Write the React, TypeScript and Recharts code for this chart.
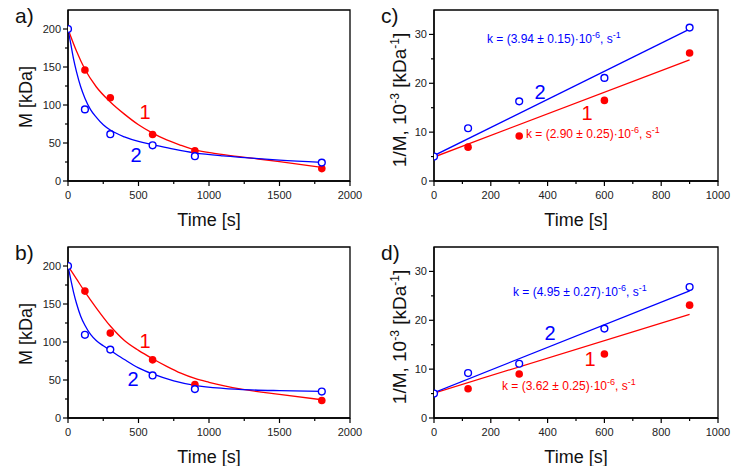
import React from "react";
import { ComposedChart, XAxis, YAxis, Line, Scatter, ReferenceArea } from "recharts";

// --- data ---
const decayT = [0, 120, 300, 600, 900, 1800];
const decayTRed = [120, 300, 600, 900, 1800];
const linT = [0, 120, 300, 600, 900];
const linTRed = [120, 300, 600, 900];
const fitLinT = [0, 900];

// a)
const aRed = [146, 109.5, 61.2, 39.6, 16.3];
const aBlue = [200, 94.2, 61.6, 47, 32.6, 24.2];
const aRedFitT = [0, 60, 120, 200, 300, 400, 500, 600, 700, 800, 900, 1050, 1240, 1500, 1800];
const aRedFitV = [200, 171, 147, 124, 104, 88, 74, 63, 54, 47, 41, 36, 31.5, 25.5, 18];
const aBlueFitT = [0, 20, 40, 60, 90, 120, 160, 200, 250, 300, 400, 500, 600, 750, 900, 1100, 1277, 1500, 1800];
const aBlueFitV = [200, 180, 160, 144, 124, 109, 94, 84, 74, 67, 58, 52, 48, 42, 37, 33, 30.5, 27.5, 24.5];

// b)
const bRed = [167, 111.7, 76.5, 44, 23];
const bBlue = [200, 109.5, 90, 56, 38, 34.8];
const bRedFitT = [0, 60, 120, 200, 300, 400, 500, 600, 700, 800, 900, 1000, 1230, 1500, 1800];
const bRedFitV = [200, 183, 166, 145, 121, 102, 89, 78, 68, 59, 52, 47, 38, 31, 24];
const bBlueFitT = [0, 20, 40, 60, 90, 120, 160, 200, 250, 300, 400, 500, 600, 750, 900, 1100, 1300, 1500, 1800];
const bBlueFitV = [200, 182, 165, 151, 134, 122, 110, 102, 95, 89, 77, 66, 58, 49, 43, 39, 37, 36, 35];

// c)
const cRed = [6.93, 9.2, 16.5, 26.2];
const cBlue = [5.0, 10.8, 16.3, 21.1, 31.4];
const cRedFit = [4.9, 24.8];
const cBlueFit = [5.2, 31.1];

// d)
const dRed = [6.0, 9.0, 13.1, 23.1];
const dBlue = [5.0, 9.2, 11.1, 18.3, 26.8];
const dRedFit = [5.1, 21.2];
const dBlueFit = [5.2, 26.0];

// axes
const decayXMajor = [0, 500, 1000, 1500, 2000];
const decayXMinor = [250, 750, 1250, 1750];
const decayYMajor = [0, 50, 100, 150, 200];
const decayYMinor = [25, 75, 125, 175];
const linXMajor = [0, 200, 400, 600, 800, 1000];
const linXMinor = [100, 300, 500, 700, 900];
const linYMajor = [0, 10, 20, 30];
const linYMinor = [5, 15, 25];

const RED = "#ff0000";
const BLUE = "#0000ff";
const FONT = "'Liberation Sans', Arial, sans-serif";

type Pt = { t: number; v: number };
const zip = (t: number[], v: number[]): Pt[] => t.map((x, i) => ({ t: x, v: v[i] }));

const tickFor = (side: "x" | "y", majors: number[]) => (props: any) => {
  const { x, y, payload } = props;
  const major = majors.includes(payload.value);
  const len = major ? 5 : 3;
  if (side === "x") {
    return (
      <g>
        <line x1={x} y1={y} x2={x} y2={y + len} stroke="#000" strokeWidth={1.2} />
        {major && (
          <text x={x} y={y + 18} textAnchor="middle" fontSize={11} fontFamily={FONT} fill="#222">
            {payload.value}
          </text>
        )}
      </g>
    );
  }
  return (
    <g>
      <line x1={x} y1={y} x2={x - len} y2={y} stroke="#000" strokeWidth={1.2} />
      {major && (
        <text x={x - 7} y={y + 4} textAnchor="end" fontSize={11} fontFamily={FONT} fill="#222">
          {payload.value}
        </text>
      )}
    </g>
  );
};

const RedDot = (p: any) => <circle cx={p.cx} cy={p.cy} r={3.8} fill={RED} />;
const BlueRing = (p: any) => (
  <circle cx={p.cx} cy={p.cy} r={3.4} fill="#fff" stroke={BLUE} strokeWidth={1.4} />
);

interface PanelProps {
  left: number;
  top: number;
  xMax: number;
  yMax: number;
  xMajor: number[];
  xMinor: number[];
  yMajor: number[];
  yMinor: number[];
  yWidth: number;
  right: number;
  red: Pt[];
  blue: Pt[];
  redFit: Pt[];
  blueFit: Pt[];
  smooth: boolean;
}

function Panel(p: PanelProps) {
  const xTicks = [...p.xMajor, ...p.xMinor].sort((a, b) => a - b);
  const yTicks = [...p.yMajor, ...p.yMinor].sort((a, b) => a - b);
  return (
    <div style={{ position: "absolute", left: p.left, top: p.top }}>
      <ComposedChart width={370} height={237} margin={{ top: 10, right: p.right, bottom: 0, left: 0 }}>
        <XAxis
          type="number"
          dataKey="t"
          domain={[0, p.xMax]}
          ticks={xTicks}
          interval={0}
          height={56}
          tickSize={0}
          tickMargin={0}
          tickLine={false}
          tick={tickFor("x", p.xMajor)}
          axisLine={{ stroke: "#000", strokeWidth: 1.3 }}
          allowDataOverflow
        />
        <YAxis
          type="number"
          domain={[0, p.yMax]}
          ticks={yTicks}
          interval={0}
          width={p.yWidth}
          tickSize={0}
          tickMargin={0}
          tickLine={false}
          tick={tickFor("y", p.yMajor)}
          axisLine={{ stroke: "#000", strokeWidth: 1.3 }}
          allowDataOverflow
        />
        <ReferenceArea x1={0} x2={p.xMax} y1={0} y2={p.yMax} fill="none" stroke="#000" strokeWidth={1.3} />
        <Line
          data={p.redFit}
          dataKey="v"
          type={p.smooth ? "monotone" : "linear"}
          stroke={RED}
          strokeWidth={1.3}
          dot={false}
          activeDot={false}
          isAnimationActive={false}
        />
        <Line
          data={p.blueFit}
          dataKey="v"
          type={p.smooth ? "monotone" : "linear"}
          stroke={BLUE}
          strokeWidth={1.3}
          dot={false}
          activeDot={false}
          isAnimationActive={false}
        />
        <Scatter data={p.red} dataKey="v" shape={RedDot} isAnimationActive={false} />
        <Scatter data={p.blue} dataKey="v" shape={BlueRing} isAnimationActive={false} />
      </ComposedChart>
    </div>
  );
}

function KText({ x, y, color, text }: { x: number; y: number; color: string; text: string }) {
  return (
    <text x={x} y={y} fill={color} fontSize={12} fontFamily={FONT}>
      {`k = (${text})·10`}
      <tspan dy={-5} fontSize={9}>-6</tspan>
      <tspan dy={5}>, s</tspan>
      <tspan dy={-5} fontSize={9}>-1</tspan>
    </text>
  );
}

function Overlay() {
  const title = { fontSize: 18, fontFamily: FONT, fill: "#111" };
  const num = { fontSize: 20, fontFamily: FONT };
  const letter = { fontSize: 21, fontFamily: FONT, fill: "#111" };
  const ylin = (x: number, y: number) => (
    <text x={x} y={y} transform={`rotate(-90 ${x} ${y})`} textAnchor="middle" fontSize={19} fontFamily={FONT} fill="#111">
      {"1/M,  10"}
      <tspan dy={-7} fontSize={12}>-3</tspan>
      <tspan dy={7}>{"  [kDa"}</tspan>
      <tspan dy={-7} fontSize={12}>-1</tspan>
      <tspan dy={7}>]</tspan>
    </text>
  );
  return (
    <svg width={740} height={474} style={{ position: "absolute", left: 0, top: 0, pointerEvents: "none" }}>
      {/* panel letters */}
      <text x={15} y={23} {...letter}>a)</text>
      <text x={15} y={260} {...letter}>b)</text>
      <text x={381} y={23} {...letter}>c)</text>
      <text x={381} y={260} {...letter}>d)</text>

      {/* axis titles */}
      <text x={209} y={226} textAnchor="middle" {...title}>Time [s]</text>
      <text x={209} y={463} textAnchor="middle" {...title}>Time [s]</text>
      <text x={576} y={226} textAnchor="middle" {...title}>Time [s]</text>
      <text x={576} y={463} textAnchor="middle" {...title}>Time [s]</text>
      <text x={32} y={97} transform="rotate(-90 32 97)" textAnchor="middle" {...title}>M [kDa]</text>
      <text x={32} y={334} transform="rotate(-90 32 334)" textAnchor="middle" {...title}>M [kDa]</text>
      {ylin(406, 100)}
      {ylin(406, 337)}

      {/* curve numbers */}
      <text x={145} y={119} textAnchor="middle" fill={RED} {...num}>1</text>
      <text x={136} y={162} textAnchor="middle" fill={BLUE} {...num}>2</text>
      <text x={145} y={348} textAnchor="middle" fill={RED} {...num}>1</text>
      <text x={133} y={386} textAnchor="middle" fill={BLUE} {...num}>2</text>
      <text x={540} y={99} textAnchor="middle" fill={BLUE} {...num}>2</text>
      <text x={587} y={120} textAnchor="middle" fill={RED} {...num}>1</text>
      <text x={550} y={340} textAnchor="middle" fill={BLUE} {...num}>2</text>
      <text x={590} y={366} textAnchor="middle" fill={RED} {...num}>1</text>

      {/* rate constants */}
      <KText x={487} y={43} color={BLUE} text="3.94 ± 0.15" />
      <KText x={526} y={138} color={RED} text="2.90 ± 0.25" />
      <KText x={513} y={296} color={BLUE} text="4.95 ± 0.27" />
      <KText x={502} y={390} color={RED} text="3.62 ± 0.25" />
    </svg>
  );
}

export default function App() {
  const decay = { xMax: 2000, yMax: 225, xMajor: decayXMajor, xMinor: decayXMinor, yMajor: decayYMajor, yMinor: decayYMinor, yWidth: 68, right: 20, smooth: true };
  const lin = { xMax: 1000, yMax: 35, xMajor: linXMajor, xMinor: linXMinor, yMajor: linYMajor, yMinor: linYMinor, yWidth: 64, right: 22, smooth: false };
  return (
    <div style={{ position: "relative", width: 740, height: 474, margin: -8, background: "#fff" }}>
      <Panel left={0} top={0} {...decay} red={zip(decayTRed, aRed)} blue={zip(decayT, aBlue)} redFit={zip(aRedFitT, aRedFitV)} blueFit={zip(aBlueFitT, aBlueFitV)} />
      <Panel left={0} top={237} {...decay} red={zip(decayTRed, bRed)} blue={zip(decayT, bBlue)} redFit={zip(bRedFitT, bRedFitV)} blueFit={zip(bBlueFitT, bBlueFitV)} />
      <Panel left={370} top={0} {...lin} red={zip(linTRed, cRed)} blue={zip(linT, cBlue)} redFit={zip(fitLinT, cRedFit)} blueFit={zip(fitLinT, cBlueFit)} />
      <Panel left={370} top={237} {...lin} red={zip(linTRed, dRed)} blue={zip(linT, dBlue)} redFit={zip(fitLinT, dRedFit)} blueFit={zip(fitLinT, dBlueFit)} />
      <Overlay />
    </div>
  );
}
